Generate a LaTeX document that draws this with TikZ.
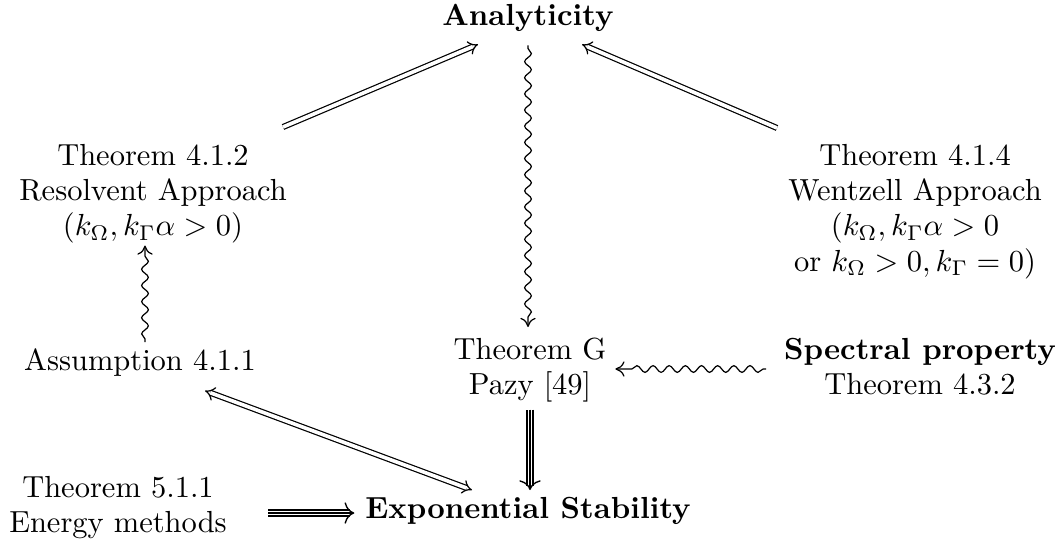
\documentclass[tikz,border=0pt]{standalone}
\usetikzlibrary{arrows.meta,decorations.pathmorphing}
\newcommand\mytriple[2]{%
  \draw[double, double distance=1.6pt, line width=0.45pt, shorten >=1.3pt] #1 -- #2;
  \draw[line width=0.45pt, -{Computer Modern Rightarrow[length=3.2pt,width=7pt]}] #1 -- #2;}
\begin{document}
\begin{tikzpicture}[x=0.328pt,y=-0.328pt,
  lbl/.style={inner sep=0pt, outer sep=0pt, align=center, anchor=north, font=\fontsize{10}{11.6}\selectfont},
  boldlbl/.style={lbl, font=\fontsize{10}{11.6}\selectfont\bfseries},
  dbl/.style={double, double distance=1.2pt, line width=0.4pt, -{Implies}},
  dblboth/.style={double, double distance=1.2pt, line width=0.4pt, {Implies}-{Implies}},
  wavy/.style={decorate, decoration={snake, segment length=5.3pt, amplitude=1.1pt, pre length=1pt, post length=3pt}, line width=0.4pt, -{Computer Modern Rightarrow[length=3pt,width=5pt]}}]
\useasboundingbox (0,0) rectangle (1063,547);

\node[boldlbl] (ana) at (528,4) {Analyticity};
\node[lbl] (res) at (153,144) {Theorem 4.1.2\\Resolvent Approach\\$(k_\Omega, k_\Gamma\alpha>0)$};
\node[lbl] (wen) at (915,144) {Theorem 4.1.4\\Wentzell Approach\\$(k_\Omega, k_\Gamma\alpha>0$\\or $k_\Omega>0, k_\Gamma=0)$};
\node[lbl] (ass) at (140,349) {Assumption 4.1.1};
\node[lbl] (thg) at (530,338) {Theorem G\\Pazy [49]};
\node[lbl] (spe) at (920,338) {\textbf{Spectral property}\\Theorem 4.3.2};
\node[lbl] (ene) at (118,476) {Theorem 5.1.1\\Energy methods};
\node[boldlbl] (expst) at (528,497) {Exponential Stability};

\draw[dbl] ([shift={(130,-17)}]res.north) -- ([shift={(-50,13)}]ana.south);
\draw[dbl] ([shift={(-138,-16)}]wen.north) -- ([shift={(54,13)}]ana.south);
\draw[wavy] ([shift={(0,14)}]ana.south) -- ([shift={(-2,-11)}]thg.north);
\draw[wavy] ([shift={(5,-7)}]ass.north) -- ([shift={(-8,2)}]res.south);
\draw[wavy] ([shift={(-18,31)}]spe.north west) -- ([shift={(9,31)}]thg.north east);
\draw[dblboth] ([shift={(65,14)}]ass.south) -- ([shift={(-56,-7)}]expst.north);
\mytriple{([shift={(0,7)}]thg.south)}{([shift={(2,-7)}]expst.north)}
\mytriple{([shift={(41.5,37)}]ene.north east)}{([shift={(-11,16)}]expst.north west)}
\end{tikzpicture}
\end{document}
